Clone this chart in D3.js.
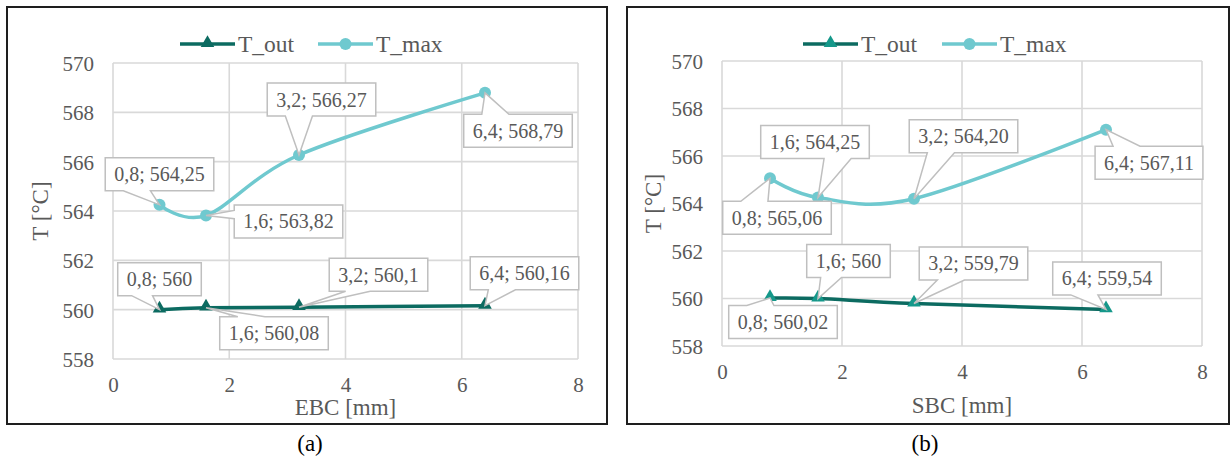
<!DOCTYPE html>
<html>
<head>
<meta charset="utf-8">
<script src="https://cdn.jsdelivr.net/npm/d3@7"></script>
<style>
  body { margin: 0; background: #fff; }
  text { font-family: "Liberation Serif", "Times New Roman", serif; }
</style>
</head>
<body>
<script>
// data
const xValues = [0.8, 1.6, 3.2, 6.4];
const xTicks = [0, 2, 4, 6, 8];
const yTicks = [558, 560, 562, 564, 566, 568, 570];
const seriesNames = ['T_out', 'T_max'];

const ebcTout = [560, 560.08, 560.1, 560.16];
const ebcTmax = [564.25, 563.82, 566.27, 568.79];
const sbcTout = [560.02, 560, 559.79, 559.54];
const sbcTmax = [565.06, 564.25, 564.2, 567.11];

const ebcToutLabels = ['0,8; 560', '1,6; 560,08', '3,2; 560,1', '6,4; 560,16'];
const ebcTmaxLabels = ['0,8; 564,25', '1,6; 563,82', '3,2; 566,27', '6,4; 568,79'];
const sbcToutLabels = ['0,8; 560,02', '1,6; 560', '3,2; 559,79', '6,4; 559,54'];
const sbcTmaxLabels = ['0,8; 565,06', '1,6; 564,25', '3,2; 564,20', '6,4; 567,11'];

// where each callout box sits relative to its point (px)
const ebcToutOffsets = [[0, -30.5], [68, 25.5], [79.5, -32.5], [39.5, -32.5]];
const ebcTmaxOffsets = [[0, -30.5], [82.5, 6], [22.5, -55.5], [33, 38]];
const sbcToutOffsets = [[13, 24], [30.5, -37.5], [59.5, -40], [1, -31]];
const sbcTmaxOffsets = [[7, 39.5], [-3, -55.5], [49.5, -62.5], [43, 33]];

const width = 1231;
const height = 459;
const textGrey = '#595959';
const gridGrey = '#d9d9d9';
const toutColor = '#0c6b61';
const tmaxColor = '#6fc9cf';

const svg = d3.select('body')
  .append('svg')
  .attr('width', width)
  .attr('height', height);

svg.append('rect').attr('width', width).attr('height', height).attr('fill', '#fff');

// Excel-like wedgeRectCallout outline, box at (bx,by) size w x h, tip at (tx,ty)
function calloutPath(bx, by, w, h, tx, ty) {
  const dx = tx - (bx + w / 2);
  const dy = ty - (by + h / 2);
  const x1 = bx + w * (dx > 0 ? 7 : 2) / 12;
  const x2 = bx + w * (dx > 0 ? 10 : 5) / 12;
  const y1 = by + h * (dy > 0 ? 7 : 2) / 12;
  const y2 = by + h * (dy > 0 ? 10 : 5) / 12;
  const inside = tx >= bx && tx <= bx + w && ty >= by && ty <= by + h;
  const r = bx + w, b = by + h;
  if (inside) return `M${bx},${by}H${r}V${b}H${bx}Z`;
  if (Math.abs(dy) >= Math.abs(dx * h / w)) {
    if (dy > 0) return `M${bx},${by}H${r}V${b}H${x2}L${tx},${ty}L${x1},${b}H${bx}Z`;
    return `M${bx},${by}H${x1}L${tx},${ty}L${x2},${by}H${r}V${b}H${bx}Z`;
  }
  if (dx > 0) return `M${bx},${by}H${r}V${y1}L${tx},${ty}L${r},${y2}V${b}H${bx}Z`;
  return `M${bx},${by}H${r}V${b}H${bx}V${y2}L${tx},${ty}L${bx},${y1}Z`;
}

function drawPanel(p) {
  const g = svg.append('g');

  g.append('rect')
    .attr('x', p.frame[0]).attr('y', p.frame[1])
    .attr('width', p.frame[2] - p.frame[0])
    .attr('height', p.frame[3] - p.frame[1])
    .attr('fill', 'none')
    .attr('stroke', '#1e1e1e')
    .attr('stroke-width', 2);

  const x = d3.scaleLinear().domain([0, 8]).range([p.left, p.right]);
  const y = d3.scaleLinear().domain([558, 570]).range([p.bottom, p.top]);

  // gridlines (the plot edges are gridlines too)
  g.append('g').selectAll('line')
    .data(xTicks).enter().append('line')
    .attr('x1', d => x(d)).attr('x2', d => x(d))
    .attr('y1', p.top).attr('y2', p.bottom)
    .attr('stroke', gridGrey).attr('stroke-width', 1.6);
  g.append('g').selectAll('line')
    .data(yTicks).enter().append('line')
    .attr('x1', p.left).attr('x2', p.right)
    .attr('y1', d => y(d)).attr('y2', d => y(d))
    .attr('stroke', gridGrey).attr('stroke-width', 1.6);

  const xAxis = d3.axisBottom(x).tickValues(xTicks).tickSize(0).tickFormat(d3.format('d'));
  const yAxis = d3.axisLeft(y).tickValues(yTicks).tickSize(0).tickFormat(d3.format('d'));

  g.append('g')
    .attr('transform', 'translate(0,' + p.bottom + ')')
    .call(xAxis)
    .call(a => a.select('.domain').remove())
    .call(a => a.selectAll('text')
      .attr('y', 26).attr('dy', '0.35em')
      .attr('fill', textGrey)
      .style('font-family', '"Liberation Serif", serif')
      .style('font-size', '21px'));

  g.append('g')
    .attr('transform', 'translate(' + p.left + ',0)')
    .call(yAxis)
    .call(a => a.select('.domain').remove())
    .call(a => a.selectAll('text')
      .attr('x', -19).attr('dy', '0.35em')
      .attr('fill', textGrey)
      .style('font-family', '"Liberation Serif", serif')
      .style('font-size', '21px'));

  // axis titles + caption
  g.append('text')
    .attr('x', (p.left + p.right) / 2).attr('y', p.xTitleY)
    .attr('text-anchor', 'middle').attr('dy', '0.35em')
    .attr('fill', textGrey).style('font-size', '23px')
    .text(p.xTitle);
  g.append('text')
    .attr('transform', 'translate(' + p.yTitleX + ',' + (p.top + p.bottom) / 2 + ') rotate(-90)')
    .attr('text-anchor', 'middle').attr('dy', '0.35em')
    .attr('fill', textGrey).style('font-size', '23px')
    .text('T [°C]');
  g.append('text')
    .attr('x', p.captionX).attr('y', 443)
    .attr('text-anchor', 'middle').attr('dy', '0.35em')
    .attr('fill', '#000').style('font-size', '23px')
    .text(p.caption);

  const line = vals => d3.line()
    .x((d, i) => x(xValues[i]))
    .y(d => y(d))
    .curve(d3.curveCardinal.tension(0))(vals);

  g.append('path').attr('d', line(p.tmax))
    .attr('fill', 'none').attr('stroke', tmaxColor).attr('stroke-width', 3.5);
  g.append('path').attr('d', line(p.tout))
    .attr('fill', 'none').attr('stroke', toutColor).attr('stroke-width', 3.5);

  const tri = d3.symbol(d3.symbolTriangle).size(80);

  g.selectAll('.tmaxDot').data(p.tmax).enter().append('circle')
    .attr('cx', (d, i) => x(xValues[i])).attr('cy', d => y(d))
    .attr('r', 6).attr('fill', tmaxColor);
  g.selectAll('.toutDot').data(p.tout).enter().append('path')
    .attr('d', tri)
    .attr('transform', (d, i) => 'translate(' + x(xValues[i]) + ',' + (y(d) - 1) + ')')
    .attr('fill', p.toutMarker);

  // callouts
  const callouts = [];
  p.tout.forEach((v, i) => callouts.push({ v, i, label: p.toutLabels[i], off: p.toutOffsets[i] }));
  p.tmax.forEach((v, i) => callouts.push({ v, i, label: p.tmaxLabels[i], off: p.tmaxOffsets[i] }));

  callouts.forEach(c => {
    const tx = x(xValues[c.i]);
    const ty = y(c.v);
    const cx = tx + c.off[0];
    const cy = ty + c.off[1];
    const cg = g.append('g');
    const path = cg.append('path');
    const t = cg.append('text')
      .attr('x', cx).attr('y', cy)
      .attr('text-anchor', 'middle').attr('dy', '0.35em')
      .attr('fill', textGrey).style('font-size', '20px')
      .text(c.label);
    const w = t.node().getComputedTextLength() + 18;
    const h = 33;
    path.attr('d', calloutPath(cx - w / 2, cy - h / 2, w, h, tx, ty))
      .attr('fill', '#fff').attr('stroke', '#bfbfbf').attr('stroke-width', 1.5);
  });

  // legend
  const leg = [
    { name: seriesNames[0], color: toutColor, marker: p.toutMarker, x: p.legendX[0], tri: true },
    { name: seriesNames[1], color: tmaxColor, marker: tmaxColor, x: p.legendX[1], tri: false }
  ];
  leg.forEach(l => {
    g.append('line')
      .attr('x1', l.x).attr('x2', l.x + 55).attr('y1', 44).attr('y2', 44)
      .attr('stroke', l.color).attr('stroke-width', 3.5);
    if (l.tri) {
      g.append('path').attr('d', tri)
        .attr('transform', 'translate(' + (l.x + 27.5) + ',43)')
        .attr('fill', l.marker);
    } else {
      g.append('circle').attr('cx', l.x + 27.5).attr('cy', 44).attr('r', 6).attr('fill', l.marker);
    }
    g.append('text')
      .attr('x', l.x + 58).attr('y', 44).attr('dy', '0.35em')
      .attr('fill', textGrey).style('font-size', '23.5px')
      .text(l.name);
  });
}

drawPanel({
  frame: [7, 7, 607, 424],
  left: 113, right: 578, top: 63, bottom: 359,
  xTitle: 'EBC [mm]', xTitleY: 407, yTitleX: 40,
  caption: '(a)', captionX: 310,
  legendX: [180, 318],
  tout: ebcTout, tmax: ebcTmax,
  toutLabels: ebcToutLabels, tmaxLabels: ebcTmaxLabels,
  toutOffsets: ebcToutOffsets, tmaxOffsets: ebcTmaxOffsets,
  toutMarker: toutColor
});

drawPanel({
  frame: [627, 7, 1229, 424],
  left: 722, right: 1202, top: 61, bottom: 346,
  xTitle: 'SBC [mm]', xTitleY: 405, yTitleX: 653,
  caption: '(b)', captionX: 925,
  legendX: [803, 942],
  tout: sbcTout, tmax: sbcTmax,
  toutLabels: sbcToutLabels, tmaxLabels: sbcTmaxLabels,
  toutOffsets: sbcToutOffsets, tmaxOffsets: sbcTmaxOffsets,
  toutMarker: '#15988a'
});
</script>
</body>
</html>
